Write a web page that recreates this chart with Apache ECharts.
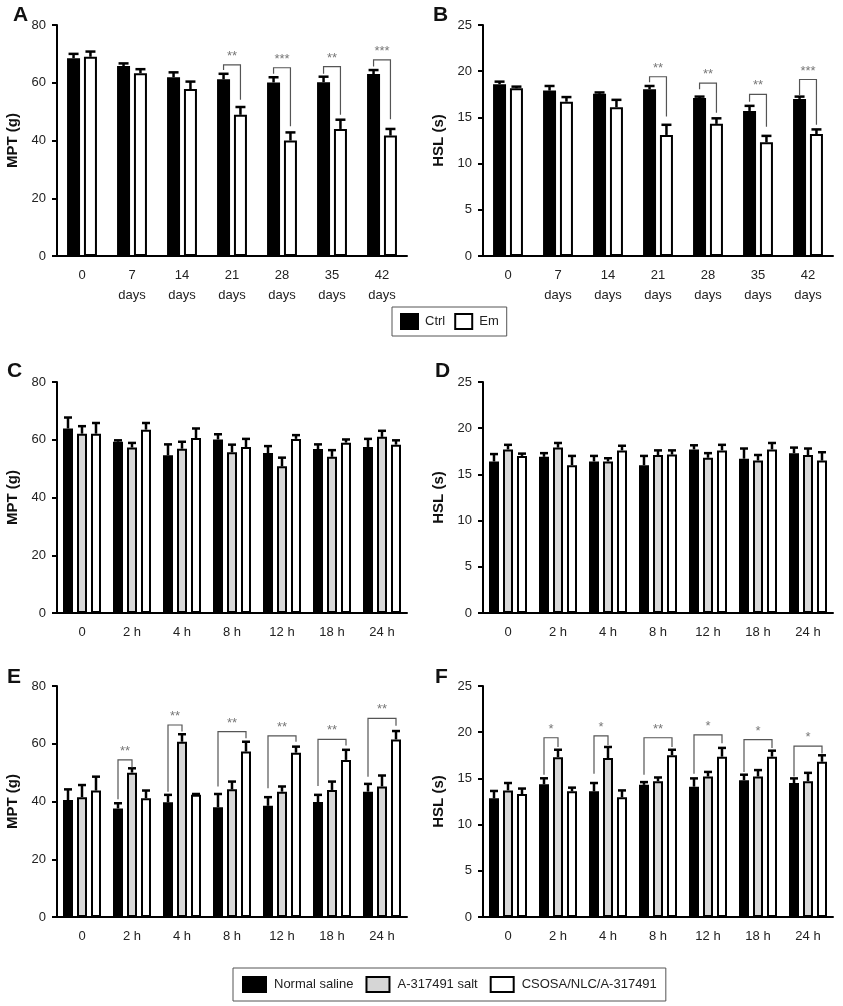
<!DOCTYPE html>
<html><head><meta charset="utf-8">
<script src="https://cdn.jsdelivr.net/npm/echarts@6/dist/echarts.min.js"></script>
<style>html,body{margin:0;padding:0;background:#fff}#c{width:843px;height:1006px}</style>
</head><body><div id="c"></div>
<script>
const catsDays = ['0', '7\ndays', '14\ndays', '21\ndays', '28\ndays', '35\ndays', '42\ndays'];
const catsHours = ['0', '2 h', '4 h', '8 h', '12 h', '18 h', '24 h'];
const yTicksMPT = [0, 20, 40, 60, 80];
const yTicksHSL = [0, 5, 10, 15, 20, 25];

const A_ctrl = [68.5, 65.8, 61.9, 61.2, 60.1, 60.2, 63.0];
const A_ctrlErr = [1.5, 0.9, 1.7, 1.9, 1.8, 1.9, 1.4];
const A_em = [69.0, 63.3, 57.8, 48.9, 40.0, 44.0, 41.7];
const A_emErr = [1.8, 1.4, 2.6, 2.7, 2.8, 3.2, 2.3];

const B_ctrl = [18.6, 17.9, 17.55, 18.05, 17.1, 15.7, 17.0];
const B_ctrlErr = [0.27, 0.5, 0.15, 0.35, 0.15, 0.55, 0.25];
const B_em = [18.15, 16.7, 16.1, 13.1, 14.3, 12.3, 13.2];
const B_emErr = [0.18, 0.5, 0.8, 1.1, 0.6, 0.7, 0.5];

const C_ns = [63.9, 59.3, 54.6, 60.1, 55.4, 56.8, 57.5];
const C_nsErr = [3.8, 0.5, 3.8, 1.8, 2.4, 1.6, 2.8];
const C_a = [62.1, 57.3, 56.9, 55.7, 50.8, 54.1, 61.0];
const C_aErr = [2.6, 1.6, 2.4, 2.6, 3.0, 2.3, 2.1];
const C_c = [62.1, 63.5, 60.6, 57.5, 60.3, 59.0, 58.3];
const C_cErr = [3.7, 2.3, 3.3, 2.8, 1.3, 1.1, 1.5];

const D_ns = [16.4, 16.9, 16.4, 16.0, 17.7, 16.7, 17.3];
const D_nsErr = [0.8, 0.4, 0.6, 1.0, 0.45, 1.1, 0.6];
const D_a = [17.7, 17.9, 16.4, 17.1, 16.8, 16.5, 17.1];
const D_aErr = [0.5, 0.5, 0.35, 0.5, 0.5, 0.6, 0.7];
const D_c = [17.0, 16.0, 17.6, 17.15, 17.6, 17.7, 16.5];
const D_cErr = [0.25, 1.0, 0.5, 0.45, 0.6, 0.7, 0.9];

const E_ns = [40.5, 37.6, 39.7, 38.0, 38.5, 39.8, 43.4];
const E_nsErr = [3.7, 1.8, 2.6, 4.6, 3.0, 2.5, 2.7];
const E_a = [41.5, 50.0, 60.7, 44.2, 43.4, 44.0, 45.2];
const E_aErr = [4.2, 1.5, 2.6, 2.7, 1.8, 2.9, 3.8];
const E_c = [43.8, 41.1, 42.3, 57.3, 56.9, 54.4, 61.5];
const E_cErr = [4.8, 2.7, 0.3, 3.4, 2.1, 3.5, 2.9];

const F_ns = [12.84, 14.36, 13.6, 14.3, 14.1, 14.8, 14.5];
const F_nsErr = [0.8, 0.65, 0.9, 0.3, 0.9, 0.6, 0.5];
const F_a = [13.7, 17.3, 17.2, 14.7, 15.2, 15.2, 14.7];
const F_aErr = [0.8, 0.8, 1.2, 0.4, 0.5, 0.7, 0.9];
const F_c = [13.3, 13.6, 12.95, 17.5, 17.35, 17.35, 16.8];
const F_cErr = [0.6, 0.4, 0.75, 0.6, 0.95, 0.65, 0.7];

// significance brackets: [category, left series, right series, top, left leg bottom, right leg bottom, label]
const brA = [[3, 0, 1, 66.2, 64.4, 54.1, '**'], [4, 0, 1, 65.2, 63.1, 44.9, '***'], [5, 0, 1, 65.6, 63.1, 48.9, '**'], [6, 0, 1, 67.9, 65.6, 47.4, '***']];
const brB = [[3, 0, 1, 19.4, 18.8, 15.1, '**'], [4, 0, 1, 18.7, 18.05, 15.5, '**'], [5, 0, 1, 17.5, 16.7, 14.0, '**'], [6, 0, 1, 19.1, 17.4, 14.2, '***']];
const brE = [[1, 0, 1, 54.4, 40.8, 51.8, '**'], [2, 0, 1, 66.5, 43.4, 64.2, '**'], [3, 0, 2, 64.2, 45.2, 61.9, '**'], [4, 0, 2, 62.7, 44.6, 60.7, '**'], [5, 0, 2, 61.5, 45.4, 59.4, '**'], [6, 0, 2, 68.8, 48.6, 66.2, '**']];
const brF = [[1, 0, 1, 19.4, 15.4, 18.4, '*'], [2, 0, 1, 19.6, 15.5, 18.6, '*'], [3, 0, 2, 19.4, 15.4, 18.4, '**'], [4, 0, 2, 19.7, 15.5, 18.8, '*'], [5, 0, 2, 19.2, 15.7, 18.3, '*'], [6, 0, 2, 18.5, 15.2, 17.7, '*']];

const FONT = 'Liberation Sans, Arial, sans-serif';
const fills = ['#000000', '#d6d6d6', '#ffffff'];

const panels = [
  {letter: 'A', left: 57, top: 25, lx: 13, ly: 5, cats: catsDays, ticks: yTicksMPT, name: 'MPT (g)', names: ['Ctrl', 'Em'], vals: [A_ctrl, A_em], errs: [A_ctrlErr, A_emErr], br: brA},
  {letter: 'B', left: 483, top: 25, lx: 433, ly: 5, cats: catsDays, ticks: yTicksHSL, name: 'HSL (s)', names: ['Ctrl', 'Em'], vals: [B_ctrl, B_em], errs: [B_ctrlErr, B_emErr], br: brB},
  {letter: 'C', left: 57, top: 382, lx: 7, ly: 361, cats: catsHours, ticks: yTicksMPT, name: 'MPT (g)', names: ['Normal saline', 'A-317491 salt', 'CSOSA/NLC/A-317491'], vals: [C_ns, C_a, C_c], errs: [C_nsErr, C_aErr, C_cErr], br: []},
  {letter: 'D', left: 483, top: 382, lx: 435, ly: 361, cats: catsHours, ticks: yTicksHSL, name: 'HSL (s)', names: ['Normal saline', 'A-317491 salt', 'CSOSA/NLC/A-317491'], vals: [D_ns, D_a, D_c], errs: [D_nsErr, D_aErr, D_cErr], br: []},
  {letter: 'E', left: 57, top: 686, lx: 7, ly: 667, cats: catsHours, ticks: yTicksMPT, name: 'MPT (g)', names: ['Normal saline', 'A-317491 salt', 'CSOSA/NLC/A-317491'], vals: [E_ns, E_a, E_c], errs: [E_nsErr, E_aErr, E_cErr], br: brE},
  {letter: 'F', left: 483, top: 686, lx: 435, ly: 667, cats: catsHours, ticks: yTicksHSL, name: 'HSL (s)', names: ['Normal saline', 'A-317491 salt', 'CSOSA/NLC/A-317491'], vals: [F_ns, F_a, F_c], errs: [F_nsErr, F_aErr, F_cErr], br: brF}
];

const grid = [], xAxis = [], yAxis = [], series = [], title = [];
panels.forEach((p, pi) => {
  const n = p.vals.length;
  const bw = n === 2 ? 13 : 10;
  const gapFrac = n === 2 ? 0.3 : 0.4;
  const total = n * bw + (n - 1) * gapFrac * bw;
  const offs = [];
  for (let i = 0; i < n; i++) offs.push(-total / 2 + bw / 2 + i * bw * (1 + gapFrac));
  const capHalf = n === 2 ? 5 : 4;
  const tmax = p.ticks[p.ticks.length - 1];
  grid.push({left: p.left, top: p.top, width: 350, height: 231});
  title.push({text: p.letter, left: p.lx, top: p.ly, padding: 0, textStyle: {fontFamily: FONT, fontSize: 21, fontWeight: 'bold', color: '#111'}});
  xAxis.push({type: 'category', gridIndex: pi, data: p.cats,
    axisLine: {lineStyle: {color: '#000', width: 2}},
    axisTick: {alignWithLabel: true, length: 5, lineStyle: {color: '#000', width: 2}},
    axisLabel: {fontFamily: FONT, fontSize: 13, color: '#222', margin: 9, lineHeight: 20, interval: 0}});
  yAxis.push({type: 'value', gridIndex: pi, min: 0, max: tmax, interval: p.ticks[1] - p.ticks[0],
    name: p.name, nameLocation: 'middle', nameGap: 37, nameRotate: 90,
    nameTextStyle: {fontFamily: FONT, fontSize: 15, fontWeight: 'bold', color: '#111'},
    axisLine: {show: true, lineStyle: {color: '#000', width: 2}},
    axisTick: {show: true, length: 5, lineStyle: {color: '#000', width: 2}},
    axisLabel: {fontFamily: FONT, fontSize: 13, color: '#222', margin: 11},
    splitLine: {show: false}});
  p.vals.forEach((v, si) => {
    series.push({type: 'bar', name: p.names[si], xAxisIndex: pi, yAxisIndex: pi, data: v,
      barWidth: bw, barGap: (gapFrac * 100) + '%',
      itemStyle: {color: fills[n === 2 ? si * 2 : si], borderColor: '#000', borderWidth: 2},
      emphasis: {disabled: true}, z: 2});
    series.push({type: 'custom', name: 'err' + pi + '_' + si, xAxisIndex: pi, yAxisIndex: pi,
      data: v.map((val, k) => [k, val, p.errs[si][k]]), encode: {x: 0, y: 1}, z: 3, silent: true,
      renderItem: (params, api) => {
        const c = api.value(0), val = api.value(1), e = api.value(2);
        const b = api.coord([c, val]); const t = api.coord([c, val + e]);
        const x = b[0] + offs[si];
        return {type: 'group', children: [
          {type: 'line', shape: {x1: x, y1: b[1], x2: x, y2: t[1]}, style: {stroke: '#000', lineWidth: 2.5}},
          {type: 'line', shape: {x1: x - capHalf, y1: t[1], x2: x + capHalf, y2: t[1]}, style: {stroke: '#000', lineWidth: 2.5}}
        ]};
      }});
  });
  if (p.br.length) {
    series.push({type: 'custom', name: 'br' + pi, xAxisIndex: pi, yAxisIndex: pi,
      data: p.br.map(r => [r[0], r[3], r[4], r[5], r[1], r[2]]), encode: {x: 0, y: 1}, z: 4, silent: true,
      renderItem: (params, api) => {
        const c = api.value(0);
        const r = p.br[params.dataIndex];
        const top = api.coord([c, api.value(1)]);
        const lb = api.coord([c, api.value(2)]);
        const rb = api.coord([c, api.value(3)]);
        const xl = top[0] + offs[api.value(4)], xr = top[0] + offs[api.value(5)];
        return {type: 'group', children: [
          {type: 'polyline', shape: {points: [[xl, lb[1]], [xl, top[1]], [xr, top[1]], [xr, rb[1]]]}, style: {stroke: '#555', lineWidth: 1.2, fill: null}},
          {type: 'text', style: {text: r[6], x: (xl + xr) / 2, y: top[1] - 2, align: 'center', verticalAlign: 'bottom', fill: '#777', font: '13px ' + FONT}}
        ]};
      }});
  }
});

const chart = echarts.init(document.getElementById('c'), null, {renderer: 'canvas'});
chart.setOption({
  animation: false,
  title: title,
  grid: grid, xAxis: xAxis, yAxis: yAxis, series: series,
  legend: [
    {data: ['Ctrl', 'Em'], left: 392, top: 307, orient: 'horizontal', icon: 'rect',
      itemWidth: 17, itemHeight: 15, itemGap: 9, padding: [6, 8, 6, 8],
      borderColor: '#555', borderWidth: 1, selectedMode: false,
      textStyle: {fontFamily: FONT, fontSize: 13, color: '#222', padding: [0, 0, 0, 2]}},
    {data: ['Normal saline', 'A-317491 salt', 'CSOSA/NLC/A-317491'], left: 233, top: 968, icon: 'rect',
      itemWidth: 23, itemHeight: 15, itemGap: 12, padding: [8, 9, 8, 9],
      borderColor: '#555', borderWidth: 1, selectedMode: false,
      textStyle: {fontFamily: FONT, fontSize: 13, color: '#222', padding: [0, 0, 0, 3]}}
  ]
});
</script></body></html>
